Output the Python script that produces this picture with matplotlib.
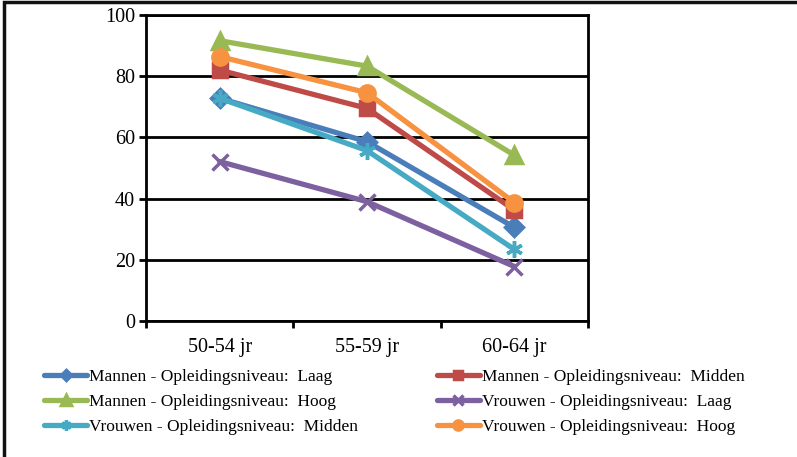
import matplotlib
matplotlib.use('Agg')
import matplotlib.pyplot as plt
from matplotlib.patches import Rectangle

plt.rcParams['font.family'] = ['Liberation Serif', 'DejaVu Serif']

categories = ['50-54 jr', '55-59 jr', '60-64 jr']
series_names = ['Mannen - Opleidingsniveau:  Laag',
                'Mannen - Opleidingsniveau:  Midden',
                'Mannen - Opleidingsniveau:  Hoog',
                'Vrouwen - Opleidingsniveau:  Laag',
                'Vrouwen - Opleidingsniveau:  Midden',
                'Vrouwen - Opleidingsniveau:  Hoog']
mannen_laag = [72.8, 58.6, 30.6]
mannen_midden = [82.0, 69.5, 36.3]
mannen_hoog = [91.6, 83.3, 54.2]
vrouwen_laag = [52.1, 39.0, 17.8]
vrouwen_midden = [72.8, 55.7, 23.4]
vrouwen_hoog = [86.4, 74.6, 38.7]
yticks = [0, 20, 40, 60, 80, 100]

values = [mannen_laag, mannen_midden, mannen_hoog,
          vrouwen_laag, vrouwen_midden, vrouwen_hoog]
colors = ['#4A7EBB', '#BE4B48', '#98B954', '#7D60A0', '#46AAC5', '#F69240']
markers = ['D', 's', '^', 'x', (6, 2, 0), 'o']
msizes = [9, 10, 11, 11, 12, 11]

fig = plt.figure(figsize=(7.97, 4.57), dpi=100)
ax = fig.add_axes([146/797, 1 - 321/457, (588-146)/797, (321-15)/457])

x = range(len(categories))
lines = []
for name, vals, c, m, ms in zip(series_names, values, colors, markers, msizes):
    ln, = ax.plot(x, vals, color=c, lw=3.8, marker=m, ms=ms, mew=2.5,
                  mfc=c, mec=c, label=name, solid_capstyle='round', zorder=3)
    lines.append(ln)

ax.set_xlim(-0.5, 2.5)
ax.set_ylim(0, 100)
ax.set_yticks(yticks)
ax.set_xticks(list(x))
ax.set_xticklabels(categories)
ax.set_xticks([-0.5, 0.5, 1.5, 2.5], minor=True)
ax.tick_params(axis='x', which='major', length=0, pad=12, labelsize=14.5)
ax.tick_params(axis='x', which='minor', length=5, width=2, direction='out')
ax.tick_params(axis='y', length=5, width=2, direction='out', labelsize=14.5, pad=3)
ax.yaxis.grid(True, color='black', lw=2)
ax.set_axisbelow(True)
for s in ax.spines.values():
    s.set_linewidth(2)
    s.set_color('black')

# legend fills row by row in the original
order = [0, 2, 4, 1, 3, 5]
leg = fig.legend([lines[i] for i in order], [series_names[i] for i in order],
                 loc='upper left', bbox_to_anchor=(37/797, 1 - 362/457), ncol=2,
                 frameon=False, fontsize=12.5, handlelength=2.5, handletextpad=0.12,
                 columnspacing=4.5, labelspacing=0.5, borderaxespad=0,
                 markerscale=0.6)

fig.patches.append(Rectangle((4/797, -0.1), 1.2, 1.1 - 2/457, transform=fig.transFigure,
                             fill=False, ec='#111111', lw=2.5))

fig.savefig('out.png', dpi=100)
